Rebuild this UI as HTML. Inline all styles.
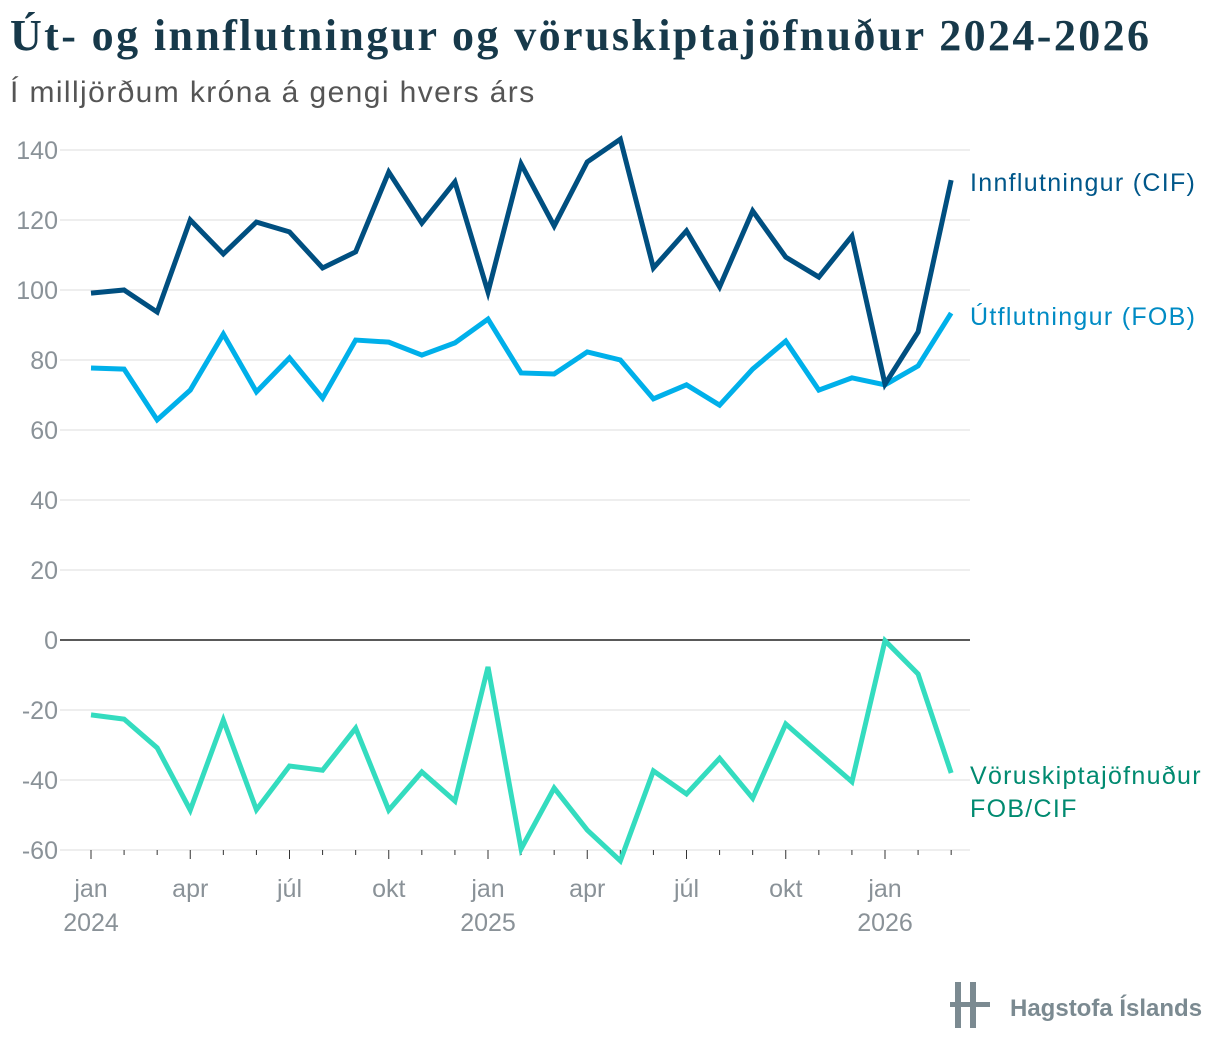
<!DOCTYPE html>
<html><head><meta charset="utf-8"><style>
body{margin:0;background:#fff;width:1220px;height:1056px;overflow:hidden;font-family:"Liberation Sans",sans-serif}
#title{position:absolute;left:10px;top:10px;font-family:"Liberation Serif",serif;font-size:44px;color:#17394a;font-weight:bold;letter-spacing:2.4px;white-space:nowrap}
#sub{position:absolute;left:10px;top:76px;font-size:30px;color:#555;font-weight:300;letter-spacing:1.4px;white-space:nowrap}
svg{position:absolute;left:0;top:0}
</style></head><body>
<div id="title">Út- og innflutningur og vöruskiptajöfnuður 2024-2026</div>
<div id="sub">Í milljörðum króna á gengi hvers árs</div>
<svg id="chart" width="1220" height="1056"></svg>
<script>
const imports=[99.1,100,93.7,120,110.3,119.4,116.6,106.3,110.9,133.7,119.1,130.9,99.4,136,118.3,136.6,143.1,106.3,116.9,100.9,122.6,109.4,103.7,115.4,73.1,88,131.4];
const exportsV=[77.7,77.4,62.9,71.4,87.4,70.9,80.6,69.1,85.7,85.1,81.4,84.9,91.7,76.3,76,82.3,80,68.9,72.9,67.1,77.4,85.4,71.4,74.9,72.9,78.3,93.4];
const balance=[-21.4,-22.6,-30.8,-48.6,-22.9,-48.5,-36,-37.2,-25.2,-48.6,-37.7,-46,-7.7,-59.7,-42.3,-54.3,-63.1,-37.4,-44,-33.8,-45.2,-24,-32.3,-40.5,-0.2,-9.7,-38];
const yTicks=[140,120,100,80,60,40,20,0,-20,-40,-60];
const xTickIdx=[0,3,6,9,12,15,18,21,24];
const xTickLabels=["jan","apr","júl","okt","jan","apr","júl","okt","jan"];
const yearIdx=[0,12,24];
const yearLabels=["2024","2025","2026"];
const NS="http://www.w3.org/2000/svg";
const svg=document.getElementById('chart');
const X=i=>91+i*(885-91)/24;
const Y=v=>640-v*3.5;
function mk(t,a){const e=document.createElementNS(NS,t);for(const k in a)e.setAttribute(k,a[k]);svg.appendChild(e);return e;}
yTicks.forEach(v=>{
 const l=mk('line',{x1:60,x2:970,y1:Y(v),y2:Y(v),stroke:v===0?'#222':'#ddd','stroke-width':v===0?1.5:1});
 
 
 const t=mk('text',{x:58,y:Y(v)+9,'text-anchor':'end','font-size':25,fill:'#8a9298'});
 t.textContent=v;
 
 
});
for(let i=0;i<imports.length;i++){
 const l=mk('line',{x1:X(i),x2:X(i),y1:850,y2:xTickIdx.includes(i)?859:855,stroke:'#333','stroke-width':1});
 
 
}
xTickIdx.forEach((idx,k)=>{
 const t=mk('text',{x:X(idx),y:897,'text-anchor':'middle','font-size':25,fill:'#8a9298'});
 t.textContent=xTickLabels[k];
 
 
});
yearIdx.forEach((idx,k)=>{
 const t=mk('text',{x:X(idx),y:931,'text-anchor':'middle','font-size':25,fill:'#8a9298'});
 t.textContent=yearLabels[k];
 
 
});
function line(arr,color,name){
 const p=mk('polyline',{points:arr.map((v,i)=>X(i)+','+Y(v)).join(' '),fill:'none',stroke:color,'stroke-width':5,'stroke-linejoin':'miter'});
 
 
}
line(balance,'#34dcbf','balance-line');
line(exportsV,'#00b0ea','exports-line');
line(imports,'#004f80','imports-line');
function lab(txt,x,y,c,name){const t=mk('text',{x:x,y:y,'font-size':25,fill:c,'letter-spacing':1.3});t.textContent=txt;
 
 }
lab('Innflutningur (CIF)',970,191,'#00578a','imports-label');
lab('Útflutningur (FOB)',970,325,'#008bc4','exports-label');
lab('Vöruskiptajöfnuður',970,784,'#008a70','balance-label');
lab('FOB/CIF',970,817,'#008a70','balance-label-2');
</script>
<svg width="1220" height="1056">
<rect x="955" y="982" width="6" height="46" fill="#7b8a91"/>
<rect x="970" y="982" width="6" height="46" fill="#7b8a91"/>
<rect x="950" y="1002" width="40" height="5" fill="#7b8a91"/>
<text x="1010" y="1016" font-size="24" font-weight="bold" fill="#7b8a91">Hagstofa Íslands</text>
</svg>
</body></html>
